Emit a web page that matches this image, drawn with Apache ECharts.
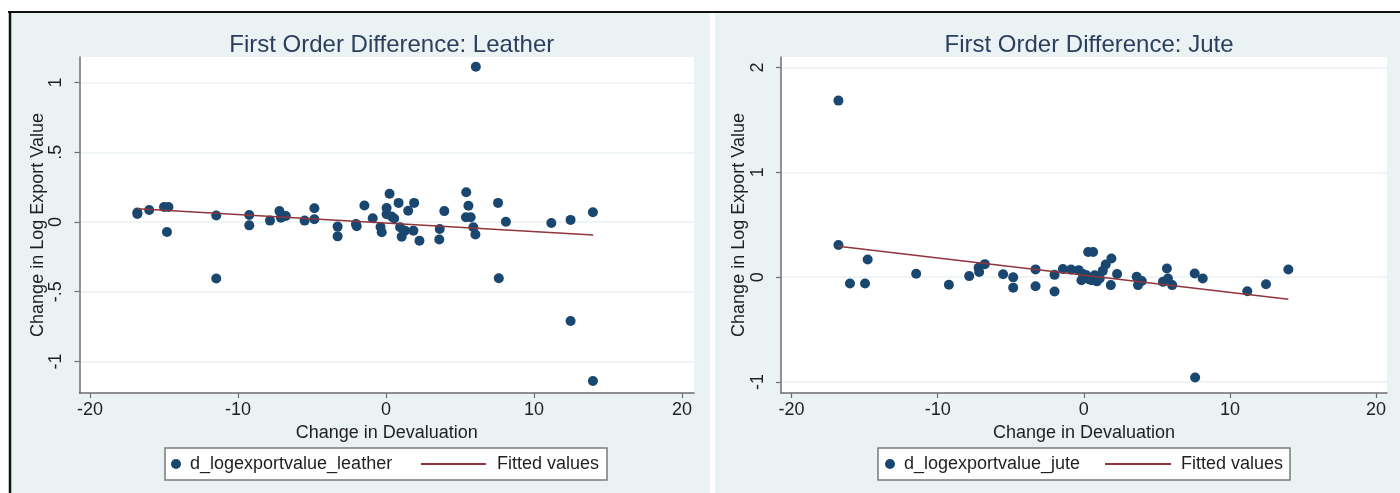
<!DOCTYPE html>
<html>
<head>
<meta charset="utf-8">
<script src="https://cdn.jsdelivr.net/npm/echarts@6/dist/echarts.min.js"></script>
<style>
html,body{margin:0;padding:0;background:#ffffff;}
#chart{width:1400px;height:493px;}
</style>
</head>
<body>
<div id="chart"></div>
<script>
// ---- data ----
const leatherPoints = [
  [-16.8, 0.058], [-16.8, 0.068], [-16.0, 0.086], [-15.0, 0.108], [-14.7, 0.108], [-14.8, -0.072],
  [-11.47, 0.046], [-11.47, -0.405], [-9.24, 0.05], [-9.24, -0.024], [-7.84, 0.01], [-7.2, 0.078],
  [-7.1, 0.03], [-6.77, 0.043], [-5.5, 0.01], [-4.84, 0.099], [-4.84, 0.02], [-3.27, -0.033],
  [-3.27, -0.103], [-2.03, -0.015], [-1.98, -0.03], [-1.46, 0.118], [-0.9, 0.027], [-0.37, -0.036],
  [-0.29, -0.074], [0.04, 0.1], [0.04, 0.055], [0.24, 0.202], [0.38, 0.04], [0.55, 0.025],
  [0.85, 0.137], [0.95, -0.038], [1.06, -0.105], [1.28, -0.062], [1.5, 0.081], [1.9, 0.137],
  [1.85, -0.062], [2.26, -0.134], [3.63, -0.05], [3.6, -0.126], [3.94, 0.078], [5.42, 0.213],
  [5.57, 0.117], [5.4, 0.034], [5.72, 0.034], [5.9, -0.038], [6.04, -0.09], [6.07, 1.113],
  [7.57, 0.137], [7.62, -0.403], [8.1, 0.002], [11.17, -0.007], [12.47, 0.015], [12.47, -0.71],
  [13.98, 0.07], [13.98, -1.14]
];
const leatherFit = [[-16.8, 0.095], [14.0, -0.094]];

const jutePoints = [
  [-16.79, 1.684], [-16.79, 0.306], [-16.0, -0.06], [-14.97, -0.06], [-14.79, 0.169],
  [-11.47, 0.032], [-9.23, -0.073], [-7.84, 0.01], [-7.2, 0.09], [-7.16, 0.05], [-6.77, 0.124],
  [-5.52, 0.027], [-4.83, -0.002], [-4.83, -0.1], [-3.3, 0.074], [-3.3, -0.086], [-2.0, 0.022],
  [-2.0, -0.137], [-1.43, 0.078], [-0.87, 0.073], [-0.35, 0.067], [-0.16, -0.029], [-0.05, 0.03],
  [0.18, 0.019], [0.3, 0.24], [0.64, 0.24], [0.35, -0.02], [0.53, -0.029], [0.75, 0.019],
  [0.9, -0.04], [1.09, -0.013], [1.3, 0.06], [1.5, 0.12], [1.89, 0.178], [1.85, -0.076],
  [2.28, 0.03], [3.62, 0.003], [3.71, -0.076], [3.97, -0.037], [5.42, -0.045], [5.69, 0.083],
  [5.76, -0.013], [6.05, -0.076], [7.59, 0.035], [7.62, -0.958], [8.14, -0.012], [11.19, -0.134],
  [12.47, -0.068], [14.0, 0.073]
];
const juteFit = [[-16.8, 0.295], [14.0, -0.21]];

const xTicks = [-20, -10, 0, 10, 20];
const xTickLabels = ['-20', '-10', '0', '10', '20'];
const leatherYTicks = [-1, -0.5, 0, 0.5, 1];
const leatherYLabels = ['-1', '-.5', '0', '.5', '1'];
const juteYTicks = [-1, 0, 1, 2];
const juteYLabels = ['-1', '0', '1', '2'];

const titles = ['First Order Difference: Leather', 'First Order Difference: Jute'];
const xTitle = 'Change in Devaluation';
const yTitle = 'Change in Log Export Value';
const leatherName = 'd_logexportvalue_leather';
const juteName = 'd_logexportvalue_jute';
const fitName = 'Fitted values';

// ---- styling ----
const FONT = 'Liberation Sans, Arial, sans-serif';
const NAVY = '#1a476f';
const MAROON = '#90353b';
const PANEL = '#eaf2f3';
const AXIS = '#6e6e6e';
const TXT = '#1f1f1f';

function lab(ticks, labels) {
  return function (v) {
    for (let i = 0; i < ticks.length; i++) if (Math.abs(ticks[i] - v) < 1e-9) return labels[i];
    return '';
  };
}

function xAxisDef(idx, min, max) {
  return {
    gridIndex: idx, type: 'value', min: min, max: max,
    axisLine: { show: true, onZero: false, lineStyle: { color: AXIS, width: 1.5 } },
    axisTick: { show: true, length: 5, customValues: xTicks, lineStyle: { color: AXIS, width: 1.2 } },
    axisLabel: { customValues: xTicks, formatter: lab(xTicks, xTickLabels), fontSize: 18, color: TXT, fontFamily: FONT, margin: 8 },
    splitLine: { show: false },
    name: xTitle, nameLocation: 'middle', nameGap: 27,
    nameTextStyle: { fontSize: 18, color: TXT, fontFamily: FONT }
  };
}
function yAxisDef(idx, min, max, ticks, labels) {
  return {
    gridIndex: idx, type: 'value', min: min, max: max,
    axisLine: { show: true, onZero: false, lineStyle: { color: AXIS, width: 1.5 } },
    axisTick: { show: true, length: 5, customValues: ticks, lineStyle: { color: AXIS, width: 1.2 } },
    axisLabel: { customValues: ticks, formatter: lab(ticks, labels), rotate: 90, fontSize: 18, color: TXT, fontFamily: FONT, margin: 14 },
    splitLine: { show: true, lineStyle: { color: PANEL, width: 1.5 } },
    name: yTitle, nameLocation: 'middle', nameGap: 32, nameRotate: 90,
    nameTextStyle: { fontSize: 18, color: TXT, fontFamily: FONT }
  };
}

const chart = echarts.init(document.getElementById('chart'), null, { renderer: 'canvas' });
chart.setOption({
  animation: false,
  backgroundColor: '#ffffff',
  title: [
    { text: titles[0], left: 386.75, top: 28, textAlign: 'center',
      textStyle: { fontSize: 24, fontWeight: 'normal', color: '#2b3e5e', fontFamily: FONT } },
    { text: titles[1], left: 1084, top: 28, textAlign: 'center',
      textStyle: { fontSize: 24, fontWeight: 'normal', color: '#2b3e5e', fontFamily: FONT } }
  ],
  graphic: [
    { type: 'rect', z: -10, silent: true, shape: { x: 11, y: 13, width: 699, height: 480 }, style: { fill: PANEL } },
    { type: 'rect', z: -10, silent: true, shape: { x: 715, y: 13, width: 685, height: 480 }, style: { fill: PANEL } },
    { type: 'line', z: -5, silent: true, shape: { x1: 8, y1: 12, x2: 1400, y2: 12 }, style: { stroke: '#111', lineWidth: 2 } },
    { type: 'line', z: -5, silent: true, shape: { x1: 10, y1: 12, x2: 10, y2: 493 }, style: { stroke: '#111', lineWidth: 2.5 } },
    { type: 'rect', z: 1, silent: true, shape: { x: 165, y: 448, width: 442, height: 32 }, style: { fill: '#ffffff', stroke: '#7a7a7a', lineWidth: 1.5 } },
    { type: 'rect', z: 1, silent: true, shape: { x: 878, y: 448, width: 412, height: 32 }, style: { fill: '#ffffff', stroke: '#7a7a7a', lineWidth: 1.5 } }
  ],
  grid: [
    { left: 79.5, top: 57, width: 614.5, height: 336, show: true, backgroundColor: '#ffffff', borderWidth: 0 },
    { left: 781, top: 57, width: 606, height: 336, show: true, backgroundColor: '#ffffff', borderWidth: 0 }
  ],
  xAxis: [xAxisDef(0, -20.71, 20.81), xAxisDef(1, -20.72, 20.75)],
  yAxis: [
    yAxisDef(0, -1.226, 1.183, leatherYTicks, leatherYLabels),
    yAxisDef(1, -1.105, 2.10, juteYTicks, juteYLabels)
  ],
  legend: [
    { data: [leatherName], left: 171, top: 455, itemWidth: 10, itemHeight: 10, icon: 'circle', padding: 0,
      textStyle: { fontSize: 18, color: TXT, fontFamily: FONT, padding: [0, 0, 0, 4] } },
    { data: [fitName], left: 421, top: 455, itemWidth: 65, itemHeight: 2, icon: 'rect', padding: 0,
      textStyle: { fontSize: 18, color: TXT, fontFamily: FONT, padding: [0, 0, 0, 6] } },
    { data: [juteName], left: 885, top: 455, itemWidth: 10, itemHeight: 10, icon: 'circle', padding: 0,
      textStyle: { fontSize: 18, color: TXT, fontFamily: FONT, padding: [0, 0, 0, 4] } },
    { data: [fitName], left: 1105, top: 455, itemWidth: 66, itemHeight: 2, icon: 'rect', padding: 0,
      textStyle: { fontSize: 18, color: TXT, fontFamily: FONT, padding: [0, 0, 0, 5] } }
  ],
  series: [
    { name: leatherName, type: 'scatter', xAxisIndex: 0, yAxisIndex: 0, data: leatherPoints,
      symbolSize: 10, itemStyle: { color: NAVY, opacity: 1 }, z: 2 },
    { name: fitName, type: 'line', xAxisIndex: 0, yAxisIndex: 0, data: leatherFit, symbol: 'none',
      lineStyle: { color: MAROON, width: 1.5 }, itemStyle: { color: MAROON }, z: 3 },
    { name: juteName, type: 'scatter', xAxisIndex: 1, yAxisIndex: 1, data: jutePoints,
      symbolSize: 10, itemStyle: { color: NAVY, opacity: 1 }, z: 2 },
    { name: fitName, type: 'line', xAxisIndex: 1, yAxisIndex: 1, data: juteFit, symbol: 'none',
      lineStyle: { color: MAROON, width: 1.5 }, itemStyle: { color: MAROON }, z: 3 }
  ]
});
</script>
</body>
</html>
